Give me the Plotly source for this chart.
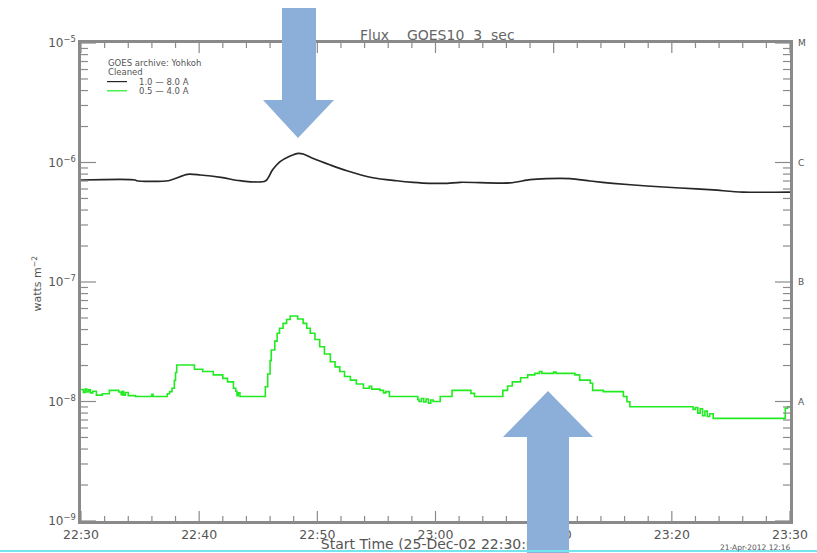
import numpy as np
import pandas as pd
import plotly.graph_objects as go

# ---------------------------------------------------------------- data
DAY = "2002-12-25"

# GOES-10 1.0-8.0 A channel (W m^-2)
long_times = ["22:30:00", "22:34:36", "22:34:42", "22:37:24", "22:39:00", "22:40:06",
              "22:42:00", "22:43:27", "22:45:36", "22:46:12", "22:46:51", "22:47:42",
              "22:48:24", "22:48:48", "22:49:36", "22:51:06", "22:52:30", "22:54:42",
              "22:56:42", "22:58:06", "22:59:30", "23:01:00", "23:02:06", "23:06:18",
              "23:08:00", "23:09:24", "23:11:24", "23:13:06", "23:15:00", "23:17:54",
              "23:20:42", "23:23:30", "23:26:00", "23:30:00"]
long_flux = [7.14e-7, 7.14e-7, 7.04e-7, 7.04e-7, 7.96e-7, 7.86e-7,
             7.46e-7, 7.04e-7, 7.00e-7, 8.65e-7, 1.016e-6, 1.134e-6,
             1.194e-6, 1.178e-6, 1.084e-6, 9.53e-7, 8.54e-7, 7.46e-7,
             7.04e-7, 6.83e-7, 6.70e-7, 6.70e-7, 6.83e-7, 6.75e-7,
             7.18e-7, 7.32e-7, 7.32e-7, 7.00e-7, 6.70e-7, 6.36e-7,
             6.12e-7, 5.89e-7, 5.66e-7, 5.66e-7]

# GOES-10 0.5-4.0 A channel (W m^-2), quantised readings
short_times = ["22:30:00", "22:30:12", "22:30:21", "22:30:30", "22:30:39", "22:30:48",
               "22:31:00", "22:31:18", "22:31:48", "22:32:24", "22:33:12", "22:33:24",
               "22:33:30", "22:33:36", "22:33:45", "22:34:00", "22:34:36", "22:36:00",
               "22:36:06", "22:37:18", "22:37:30", "22:37:42", "22:37:54", "22:38:00",
               "22:38:06", "22:39:36", "22:40:18", "22:41:12", "22:42:00", "22:42:24",
               "22:42:54", "22:43:06", "22:43:12", "22:43:18", "22:43:27", "22:45:36",
               "22:45:48", "22:46:00", "22:46:06", "22:46:24", "22:46:36", "22:46:48",
               "22:47:06", "22:47:24", "22:47:42", "22:48:20", "22:48:48", "22:49:06",
               "22:49:24", "22:49:48", "22:50:12", "22:50:36", "22:51:06", "22:51:30",
               "22:51:54", "22:52:18", "22:52:48", "22:53:18", "22:53:54", "22:54:24",
               "22:54:36", "22:55:18", "22:55:36", "22:55:48", "22:56:06", "22:58:30",
               "22:58:36", "22:58:48", "22:59:00", "22:59:12", "22:59:24", "22:59:36",
               "22:59:48", "23:00:24", "23:01:24", "23:03:00", "23:03:18", "23:05:42",
               "23:06:06", "23:06:30", "23:07:12", "23:07:48", "23:08:24", "23:08:48",
               "23:09:00", "23:10:00", "23:10:12", "23:11:48", "23:12:12", "23:13:06",
               "23:13:18", "23:14:12", "23:15:54", "23:16:12", "23:16:27", "23:21:48",
               "23:22:00", "23:22:12", "23:22:24", "23:22:36", "23:22:48", "23:23:00",
               "23:23:12", "23:23:30", "23:29:36", "23:29:48", "23:30:00"]
short_flux = [1.26e-8, 1.19e-8, 1.27e-8, 1.20e-8, 1.25e-8, 1.18e-8,
              1.22e-8, 1.13e-8, 1.16e-8, 1.24e-8, 1.20e-8, 1.14e-8,
              1.22e-8, 1.13e-8, 1.19e-8, 1.12e-8, 1.10e-8, 1.15e-8,
              1.10e-8, 1.16e-8, 1.21e-8, 1.29e-8, 1.50e-8, 1.75e-8,
              2.02e-8, 1.86e-8, 1.78e-8, 1.67e-8, 1.56e-8, 1.46e-8,
              1.29e-8, 1.22e-8, 1.12e-8, 1.18e-8, 1.10e-8, 1.33e-8,
              1.70e-8, 2.20e-8, 2.70e-8, 3.20e-8, 3.72e-8, 4.10e-8,
              4.51e-8, 4.85e-8, 5.19e-8, 4.90e-8, 4.51e-8, 4.10e-8,
              3.72e-8, 3.30e-8, 2.87e-8, 2.50e-8, 2.15e-8, 1.95e-8,
              1.78e-8, 1.62e-8, 1.51e-8, 1.40e-8, 1.29e-8, 1.34e-8,
              1.27e-8, 1.24e-8, 1.18e-8, 1.21e-8, 1.10e-8, 1.04e-8,
              1.00e-8, 1.06e-8, 0.99e-8, 1.05e-8, 0.97e-8, 1.03e-8,
              1.00e-8, 1.10e-8, 1.24e-8, 1.17e-8, 1.10e-8, 1.24e-8,
              1.35e-8, 1.46e-8, 1.58e-8, 1.67e-8, 1.72e-8, 1.78e-8,
              1.72e-8, 1.76e-8, 1.72e-8, 1.67e-8, 1.51e-8, 1.42e-8,
              1.24e-8, 1.21e-8, 1.10e-8, 9.96e-9, 9.05e-9, 8.60e-9,
              8.90e-9, 8.00e-9, 8.70e-9, 7.60e-9, 8.30e-9, 7.50e-9,
              7.90e-9, 7.23e-9, 8.77e-9, 9.05e-9, 9.05e-9]

x_ticks = ["22:30", "22:40", "22:50", "23:00", "23:10", "23:20", "23:30"]
y_ticks = [1e-9, 1e-8, 1e-7, 1e-6, 1e-5]
y_tick_text = ["10<sup>−9</sup>", "10<sup>−8</sup>", "10<sup>−7</sup>",
               "10<sup>−6</sup>", "10<sup>−5</sup>"]
class_levels = [1e-8, 1e-7, 1e-6, 1e-5]
class_letters = ["A", "B", "C", "M"]

legend_lines = ["1.0 \u2014 8.0 A", "0.5 \u2014 4.0 A"]

# ---------------------------------------------------------------- geometry
W, H = 817, 553
ML, MR, MT, MB = 81, 27, 43, 32
PW, PH = W - ML - MR, H - MT - MB
Y_RANGE = (-9, -5)


def px(x):
    return (x - ML) / PW


def py(y):
    return (H - MB - y) / PH


def ts(hms):
    return f"{DAY} {hms}"


def y_frac(v):
    """Position of a flux value along the log y axis, as a fraction of its height."""
    return (np.log10(v) - Y_RANGE[0]) / (Y_RANGE[1] - Y_RANGE[0])


FONT = "DejaVu Sans"
TXT = "#555555"
AX = "#8a8a8a"
BLACK = "#262626"
GREEN = "#22ea22"
ARROW = "#8cafd9"

t_start, t_end = ts("22:30:00"), ts("23:30:00")

# minor tick positions: every 2 min on x, 2..9 per decade on y
minor_x = [t.strftime("%Y-%m-%d %H:%M:%S")
           for t in pd.date_range(t_start, t_end, freq="2min") if t.minute % 10]
minor_y = [k * 10.0 ** e for e in range(Y_RANGE[0], Y_RANGE[1]) for k in range(2, 10)]

fig = go.Figure()
fig.add_trace(go.Scatter(
    x=[ts(t) for t in long_times], y=long_flux, mode="lines",
    line=dict(color=BLACK, width=1.7, shape="spline", smoothing=0.8),
    name=legend_lines[0], showlegend=False))
fig.add_trace(go.Scatter(
    x=[ts(t) for t in short_times], y=short_flux, mode="lines",
    line=dict(color=GREEN, width=1.6, shape="hv"),
    name=legend_lines[1], showlegend=False))

frame = dict(showline=True, linecolor=AX, linewidth=2.5, mirror=True,
             showgrid=False, zeroline=False, ticks="", automargin=False)

fig.update_layout(
    width=W, height=H, margin=dict(l=ML, r=MR, t=MT, b=MB),
    paper_bgcolor="white", plot_bgcolor="white",
    font=dict(family=FONT, color=TXT),
    xaxis=dict(type="date", range=[t_start, t_end], tickmode="array",
               tickvals=[ts(t + ":00") for t in x_ticks], ticktext=x_ticks,
               tickfont=dict(size=12.5, color=TXT), **frame),
    yaxis=dict(type="log", range=list(Y_RANGE), tickmode="array", tickvals=y_ticks,
               ticktext=y_tick_text, tickfont=dict(size=12, color=TXT), **frame),
)

LEG_Y = [63.2, 72.4, 81.6, 90.8]
LEG_FONT = dict(size=8.5, color=TXT)
annotations = [
    dict(text="Flux\u00a0\u00a0\u00a0\u00a0GOES10\u00a0\u00a03\u00a0\u00a0sec",
         x=px(437), y=py(35), xref="paper", yref="paper", showarrow=False,
         xanchor="center", yanchor="middle", font=dict(size=14, color="#666666")),
    dict(text="watts m<sup>−2</sup>", x=px(27), y=py(283), xref="paper", yref="paper",
         showarrow=False, textangle=-90, font=dict(size=11, color=TXT)),
    dict(text="21-Apr-2012 12:16", x=px(718), y=py(547), xref="paper", yref="paper",
         showarrow=False, xanchor="left", yanchor="middle",
         font=dict(size=7.5, color=TXT)),
    dict(text="GOES archive: Yohkoh", x=px(106), y=py(LEG_Y[0]), xref="paper",
         yref="paper", showarrow=False, xanchor="left", yanchor="middle", font=LEG_FONT),
    dict(text="Cleaned", x=px(106), y=py(LEG_Y[1]), xref="paper", yref="paper",
         showarrow=False, xanchor="left", yanchor="middle", font=LEG_FONT),
]
for i, lab in enumerate(legend_lines):
    annotations.append(dict(text=lab, x=px(137), y=py(LEG_Y[2 + i]), xref="paper",
                            yref="paper", showarrow=False, xanchor="left",
                            yanchor="middle", font=LEG_FONT))
for lvl, letter in zip(class_levels, class_letters):
    annotations.append(dict(text=letter, x=px(796), y=np.log10(lvl), xref="paper",
                            yref="y", showarrow=False, xanchor="left", yanchor="middle",
                            font=dict(size=9, color=TXT)))
fig.update_layout(annotations=annotations)

shapes = []
TICK = dict(color=AX, width=1.2)

# inward tick marks on all four sides of the frame (length in pixels)
for vals, length in ((y_ticks, 15), (minor_y, 7)):
    for v in vals:
        f = y_frac(v)
        for side, sign in ((0, 1), (1, -1)):
            shapes.append(dict(type="line", xref="paper", xsizemode="pixel",
                               xanchor=side, x0=0, x1=sign * length,
                               yref="paper", y0=f, y1=f, line=TICK, layer="above"))
for vals, length in (([ts(t + ":00") for t in x_ticks], 10), (minor_x, 5)):
    for v in vals:
        for side, sign in ((0, 1), (1, -1)):
            shapes.append(dict(type="line", xref="x", x0=v, x1=v,
                               yref="paper", ysizemode="pixel", yanchor=side,
                               y0=0, y1=sign * length, line=TICK, layer="above"))

# legend samples
for i, col in enumerate([BLACK, GREEN]):
    shapes.append(dict(type="line", xref="paper", yref="paper",
                       x0=px(107), x1=px(127), y0=py(LEG_Y[2 + i]), y1=py(LEG_Y[2 + i]),
                       line=dict(color=col, width=1.2)))
# x-axis caption (kept in the shape layer so the pointer below sits on top of it)
shapes.append(dict(type="rect", xref="paper", yref="paper",
                   x0=px(250), x1=px(620), y0=py(551), y1=py(535),
                   line=dict(width=0), fillcolor="rgba(0,0,0,0)", layer="above",
                   label=dict(text="Start Time (25-Dec-02 22:30:00)",
                              textposition="middle center",
                              font=dict(size=14, color=TXT, family=FONT))))


def arrow_path(pts):
    return "M " + " L ".join(f"{px(x):.5f},{py(y):.5f}" for x, y in pts) + " Z"


down_arrow = [(282, 8), (316, 8), (316, 100), (334, 100), (298, 138), (263, 100), (282, 100)]
up_arrow = [(548, 391), (593, 437), (569, 437), (569, 553), (527, 553), (527, 437), (503, 437)]
for pts in (down_arrow, up_arrow):
    shapes.append(dict(type="path", xref="paper", yref="paper", path=arrow_path(pts),
                       fillcolor=ARROW, line=dict(width=0), layer="above"))
# cyan rule along the lower edge
shapes.append(dict(type="line", xref="paper", yref="paper", x0=px(0), x1=px(817),
                   y0=py(551), y1=py(551), line=dict(color="#74e4ee", width=2),
                   layer="above"))
fig.update_layout(shapes=shapes)

fig.write_html("out.html")
